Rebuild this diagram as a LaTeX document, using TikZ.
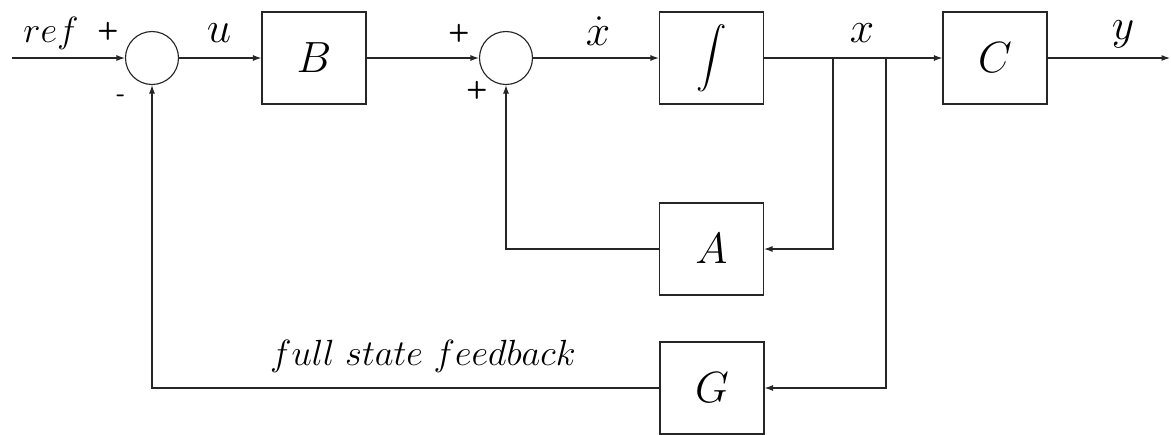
\documentclass[tikz,border=0pt]{standalone}
\usepackage{amsmath}
\usetikzlibrary{arrows.meta}
\begin{document}
\begin{tikzpicture}[x=0.02cm,y=-0.02cm,
  line/.style={draw=black!85,line width=0.65pt},
  sig/.style={line,-{Latex[length=1.7mm,width=1.2mm]}},
  block/.style={line,rectangle,minimum width=2.08cm,minimum height=1.84cm,inner sep=0pt,
    font=\fontsize{30}{34}\selectfont},
  sumj/.style={line,circle,minimum size=1.06cm,inner sep=0pt},
  lab/.style={anchor=base,inner sep=0pt,font=\fontsize{28}{32}\selectfont},
  sgn/.style={inner sep=0pt,font=\sffamily\bfseries\fontsize{14}{16}\selectfont}]
\useasboundingbox (0,0) rectangle (1171,434);

% summing junctions and blocks
\node[sumj] (s1) at (152,58) {};
\node[sumj] (s2) at (506,58) {};
\node[block] (B) at (314,58) {$B$};
\node[block,font=\fontsize{17}{20}\selectfont] (I) at (711.5,58) {$\displaystyle\int$};
\node[block] (C) at (995,58) {$C$};
\node[block] (A) at (711.5,249) {$A$};
\node[block] (G) at (712,388) {$G$};

% free ends and branch points
\coordinate (in) at (12,58);
\coordinate (out) at (1170,58);
\coordinate (b1) at (833,58);
\coordinate (b2) at (886,58);

% forward path
\draw[sig] (in) -- (s1.west);
\draw[sig] (s1.east) -- (B.west);
\draw[sig] (B.east) -- (s2.west);
\draw[sig] (s2.east) -- (I.west);
\draw[sig] (I.east) -- (C.west);
\draw[sig] (C.east) -- (out);

% state feedback loops
\draw[sig] (b1) |- (A.east);
\draw[sig] (A.west) -| (s2.south);
\draw[sig] (b2) |- (G.east);
\draw[sig] (G.west) -| (s1.south);

% signal labels
\node[lab,font=\fontsize{22}{26}\selectfont] (lref) at (51,42) {$ref$};
\node[lab] (lu) at (219,42) {$u$};
\node[lab] (lxd) at (598,45) {$\dot{x}$};
\node[lab] (lx) at (862,42) {$x$};
\node[lab] (ly) at (1123,39) {$y$};
\node[lab,font=\fontsize{20}{24}\selectfont] (lfb) at (423,365) {$full\ state\ feedback$};

% signs at the junctions
\node[sgn] (p1) at (108,31) {+};
\node[sgn] (m1) at (121,98) {-};
\node[sgn] (p2) at (459,33) {+};
\node[sgn] (p3) at (477,90) {+};
\end{tikzpicture}
\end{document}
